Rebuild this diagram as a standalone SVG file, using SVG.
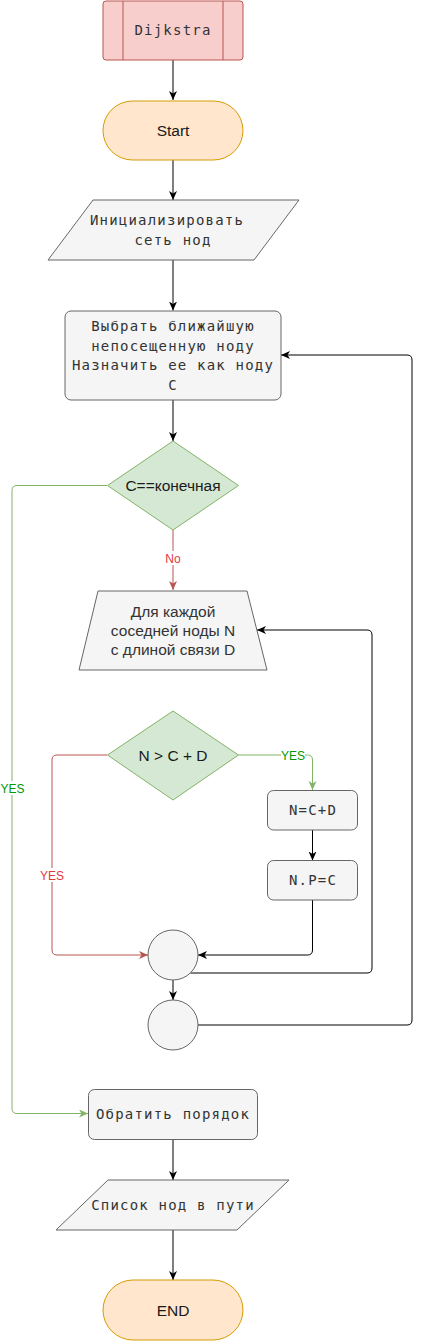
<svg xmlns="http://www.w3.org/2000/svg" width="423" height="1342" viewBox="0 0 423 1342">
<style>
.gray{fill:#f5f5f5;stroke:#666666;stroke-width:1}
.dec{fill:#d5e8d4;stroke:#82b366;stroke-width:1}
.term{fill:#ffe6cc;stroke:#d79b00;stroke-width:1}
.red{fill:#f8cecc;stroke:#b85450;stroke-width:1}
.mono{font-family:"DejaVu Sans Mono","Liberation Mono",monospace;font-size:14px;letter-spacing:1.2px;fill:#333333;text-anchor:middle}
.sans{font-family:"Liberation Sans",Arial,sans-serif;font-size:15.5px;fill:#1a1a1a;text-anchor:middle}
.sans2{font-family:"Liberation Sans",Arial,sans-serif;font-size:15.5px;fill:#333333;text-anchor:middle}
.lbl{font-family:"Liberation Sans",Arial,sans-serif;font-size:12px;text-anchor:middle}
.e{fill:none;stroke:#000000;stroke-width:1}
.eg{fill:none;stroke:#82b366;stroke-width:1}
.er{fill:none;stroke:#b85450;stroke-width:1}
</style>
<defs>
<marker id="ab" markerUnits="userSpaceOnUse" markerWidth="10" markerHeight="10" refX="9" refY="4" orient="auto"><path d="M0,0 L9,4 L0,8 L2.5,4 z" fill="#000000"/></marker>
<marker id="ag" markerUnits="userSpaceOnUse" markerWidth="10" markerHeight="10" refX="9" refY="4" orient="auto"><path d="M0,0 L9,4 L0,8 L2.5,4 z" fill="#82b366"/></marker>
<marker id="ar" markerUnits="userSpaceOnUse" markerWidth="10" markerHeight="10" refX="9" refY="4" orient="auto"><path d="M0,0 L9,4 L0,8 L2.5,4 z" fill="#b85450"/></marker>
</defs>

<g id="connectors">
<path class="e" d="M173,60 V100" marker-end="url(#ab)"/>
<path class="e" d="M173,160 V200" marker-end="url(#ab)"/>
<path class="e" d="M173,260 V310.5" marker-end="url(#ab)"/>
<path class="e" d="M173,400 V441" marker-end="url(#ab)"/>
<path class="er" d="M173,530 V590" marker-end="url(#ar)"/>
<path class="eg" d="M107,485.5 H17 Q12,485.5 12,490.5 V1108.5 Q12,1113.5 17,1113.5 H88" marker-end="url(#ag)"/>
<path class="eg" d="M238.5,755 H307.5 Q312.5,755 312.5,760 V790" marker-end="url(#ag)"/>
<path class="e" d="M312.5,830 V860.5" marker-end="url(#ab)"/>
<path class="e" d="M312.5,900 V950 Q312.5,955 307.5,955 H198" marker-end="url(#ab)"/>
<path class="er" d="M107,755 H57 Q52,755 52,760 V950 Q52,955 57,955 H148" marker-end="url(#ar)"/>
<path class="e" d="M190.5,973 H367 Q372,973 372,968 V635 Q372,630 367,630 H257" marker-end="url(#ab)"/>
<path class="e" d="M173,980 V1000" marker-end="url(#ab)"/>
<path class="e" d="M198,1025 H407 Q412,1025 412,1020 V360 Q412,355 407,355 H281" marker-end="url(#ab)"/>
<path class="e" d="M173,1139 V1180" marker-end="url(#ab)"/>
<path class="e" d="M173,1230 V1280" marker-end="url(#ab)"/>
<rect x="163" y="551" width="20" height="14" fill="#ffffff"/>
<text class="lbl" x="173" y="563" fill="#e0393e">No</text>
<rect x="0" y="781" width="25" height="14" fill="#ffffff"/>
<text class="lbl" x="12.5" y="793" fill="#009900">YES</text>
<rect x="281" y="748" width="24" height="14" fill="#ffffff"/>
<text class="lbl" x="293" y="759.5" fill="#009900">YES</text>
<rect x="40" y="868" width="25" height="14" fill="#ffffff"/>
<text class="lbl" x="52" y="879.5" fill="#e0393e">YES</text>
</g>

<g id="dijkstra">
<rect class="red" x="103" y="1" width="140" height="59" rx="3"/>
<line x1="123" y1="1" x2="123" y2="60" stroke="#b85450"/>
<line x1="223" y1="1" x2="223" y2="60" stroke="#b85450"/>
<text class="mono" x="173" y="35">Dijkstra</text>
</g>

<g id="start">
<rect class="term" x="103" y="101" width="140" height="59" rx="29.5"/>
<text class="sans" x="173" y="135.5">Start</text>
</g>

<g id="init">
<polygon class="gray" points="93,200 299,200 254,260 48,260" stroke-linejoin="round"/>
<text class="mono" x="167" y="225">Инициализировать</text>
<text class="mono" x="173" y="245">сеть нод</text>
</g>

<g id="select">
<rect class="gray" x="65" y="311" width="216" height="89" rx="6"/>
<text class="mono" x="173" y="331">Выбрать ближайшую</text>
<text class="mono" x="173" y="350.5">непосещенную ноду</text>
<text class="mono" x="173" y="370">Назначить ее как ноду</text>
<text class="mono" x="173" y="389.5">C</text>
</g>

<g id="isfinal">
<polygon class="dec" points="173,441 238.5,485.5 173,530 107.5,485.5"/>
<text class="sans" x="173" y="491">C==конечная</text>
</g>

<g id="foreach">
<polygon class="gray" points="98,591 247,591 267,670 79,670"/>
<text class="sans2" x="173" y="616.5">Для каждой</text>
<text class="sans2" x="173" y="635.5">соседней ноды N</text>
<text class="sans2" x="173" y="654.5">с длиной связи D</text>
</g>

<g id="compare">
<polygon class="dec" points="173,711 238.5,755 173,800 107.5,755"/>
<text class="sans" x="173" y="761">N &gt; C + D</text>
</g>

<g id="setn">
<rect class="gray" x="267.5" y="790.5" width="90" height="39.5" rx="6"/>
<text class="mono" x="313" y="815">N=C+D</text>
</g>

<g id="setp">
<rect class="gray" x="267.5" y="860.5" width="90" height="39.5" rx="6"/>
<text class="mono" x="313" y="885">N.P=C</text>
</g>

<g id="join1">
<circle class="gray" cx="173" cy="955" r="25"/>
</g>

<g id="join2">
<circle class="gray" cx="173" cy="1025" r="25"/>
</g>

<g id="reverse">
<rect class="gray" x="88.5" y="1089.5" width="169" height="50" rx="6"/>
<text class="mono" x="173" y="1119">Обратить порядок</text>
</g>

<g id="output">
<polygon class="gray" points="108,1180 289,1180 237,1230 56,1230" stroke-linejoin="round"/>
<text class="mono" x="173" y="1210">Список нод в пути</text>
</g>

<g id="end">
<rect class="term" x="103" y="1280" width="140" height="60" rx="30"/>
<text class="sans" x="173" y="1316">END</text>
</g>
</svg>
